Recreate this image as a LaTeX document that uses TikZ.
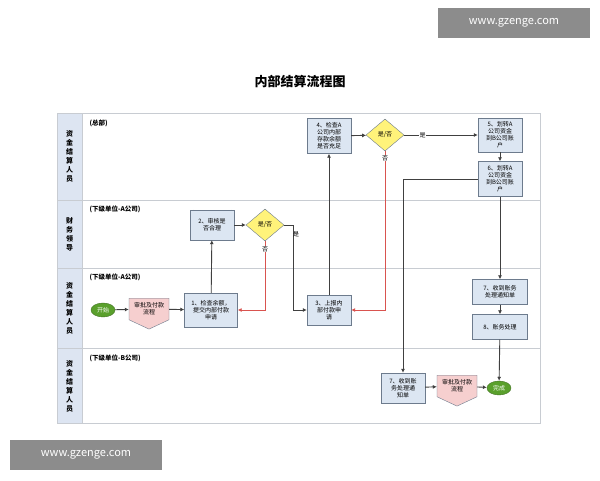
\documentclass[tikz,border=0pt]{standalone}
\usepackage{fontspec}
\setmainfont{Noto Sans CJK SC}
\usetikzlibrary{shapes.geometric,shapes.symbols,arrows.meta}
\definecolor{bfill}{HTML}{DCE6F2}
\definecolor{bdraw}{HTML}{6D7B8D}
\definecolor{hfill}{HTML}{DDE5F2}
\definecolor{lane}{HTML}{C8CCD2}
\definecolor{ylw}{HTML}{FFF37A}
\definecolor{pk}{HTML}{F6CFCF}
\definecolor{rd}{HTML}{D9534F}
\definecolor{gn}{HTML}{5AA02C}
\begin{document}
\begin{tikzpicture}[x=1pt,y=-1pt,
  txt/.style={font=\fontsize{6}{7}\selectfont,align=center},
  proc/.style={txt,draw=bdraw,fill=bfill,minimum width=#1,inner sep=1pt,
    append after command={\pgfextra{\let\mn\tikzlastnode
      \draw[bdraw] ([xshift=3pt]\mn.north west)--([xshift=3pt]\mn.south west)
                   ([xshift=-3pt]\mn.north east)--([xshift=-3pt]\mn.south east);}}},
  proc/.default=44pt,
  dia/.style={txt,diamond,draw=bdraw,fill=ylw,minimum width=38pt,minimum height=32pt,inner sep=0pt,aspect=1.2},
  pent/.style={txt,draw=bdraw,fill=pk,signal,signal to=south,signal pointer angle=130,minimum width=40pt,minimum height=29pt,inner sep=1pt},
  term/.style={txt,ellipse,draw=gn!70!black,fill=gn,text=white,minimum width=24pt,minimum height=14pt,inner sep=0pt},
  ar/.style={draw=black!75,line width=0.9pt,-{Latex[length=4pt,width=4pt]}},
  rar/.style={draw=rd,line width=0.9pt,-{Latex[length=4pt,width=4pt]}},
  hd/.style={font=\fontsize{7}{9}\selectfont\bfseries,align=center},
  sub/.style={font=\fontsize{6.5}{7}\selectfont\bfseries,anchor=west}]
\useasboundingbox (0,0) rectangle (600,480);
\fill[white] (0,0) rectangle (600,480);
% watermarks
\fill[black!45] (438,8) rectangle (590,38);
\node[text=white,font=\fontsize{11}{12}\selectfont] (wm1) at (514,23) {www.gzenge.com};
\fill[black!45] (10,440) rectangle (162,470);
\node[text=white,font=\fontsize{11}{12}\selectfont] (wm2) at (86,455) {www.gzenge.com};
% title
\node[font=\fontsize{13}{14}\selectfont\bfseries] (title) at (300,82) {内部结算流程图};
% frame
\fill[hfill] (57,113) rectangle (82,423);
\draw[lane] (57,113) rectangle (540,423);
\draw[lane] (82,113)--(82,423);
\foreach \y in {200,268,348} \draw[lane] (57,\y)--(540,\y);
\node[hd] (h1) at (69.5,156) {资\\金\\结\\算\\人\\员};
\node[hd] (h2) at (69.5,234) {财\\务\\领\\导};
\node[hd] (h3) at (69.5,308) {资\\金\\结\\算\\人\\员};
\node[hd] (h4) at (69.5,386) {资\\金\\结\\算\\人\\员};
\node[sub] (s1) at (86,123) {(总部)};
\node[sub] (s2) at (86,209) {(下级单位-A公司)};
\node[sub] (s3) at (86,277) {(下级单位-A公司)};
\node[sub] (s4) at (86,358) {(下级单位-B公司)};
% nodes
\node[term] (start) at (103,310) {开始};
\node[pent] (p1) at (149,309) {审批及付款\\流程};
\node[proc=53pt,minimum height=34pt] (n1) at (211,310) {1、检查余额，\\提交内部付款\\申请};
\node[proc,minimum height=30pt] (n2) at (212,225) {2、审核是\\否合理};
\node[dia] (d1) at (265,225) {是/否};
\node[proc,minimum height=30pt] (n3) at (329,310) {3、上报内\\部付款申\\请};
\node[proc,minimum height=35pt] (n4) at (329,136) {4、检查A\\公司内部\\存款余额\\是否充足};
\node[dia] (d2) at (385,135) {是/否};
\node[proc,minimum height=34pt] (n5) at (500,135) {5、划转A\\公司资金\\到B公司账\\户};
\node[proc,minimum height=35pt] (n6) at (500,179) {6、划转A\\公司资金\\到B公司账\\户};
\node[proc=55pt,minimum height=25pt] (n7) at (500,292) {7、收到账务\\处理通知单};
\node[proc=55pt,minimum height=25pt] (n8) at (500,327) {8、账务处理};
\node[proc,minimum height=30pt] (n7b) at (403,388) {7、收到账\\务处理通\\知单};
\node[pent] (p2) at (457,386) {审批及付款\\流程};
\node[term] (end) at (499,388) {完成};
% edges
\draw[ar] (start)--(p1);
\draw[ar] (p1)--(n1);
\draw[ar] (n1)--(n2);
\draw[ar] (n2)--(d1);
\draw[ar] (d1.east)--(293,225)--(293,310)--(n3.west);
\node[txt] (l1) at (296,234) {是};
\draw[rar] (d1.south)--(265,310)--(n1.east);
\node[txt,fill=white,inner sep=0.5pt] (l2) at (265,249) {否};
\draw[ar] (n3)--(n4);
\draw[ar] (n4)--(d2);
\draw[ar] (d2)--(n5) node[txt,pos=0.25,fill=white,inner sep=0.5pt] (l3) {是};
\draw[rar] (d2.south)--(385,310)--(n3.east);
\node[txt,fill=white,inner sep=0.5pt] (l4) at (385,158) {否};
\draw[ar] (n5)--(n6);
\draw[ar] (n6.west)--(403,179)--(n7b.north);
\draw[ar] (n6)--(n7);
\draw[ar] (n7)--(n8);
\draw[ar] (n8)--(end);
\draw[ar] (n7b)--(p2);
\draw[ar] (p2)--(end);
\end{tikzpicture}
\end{document}
